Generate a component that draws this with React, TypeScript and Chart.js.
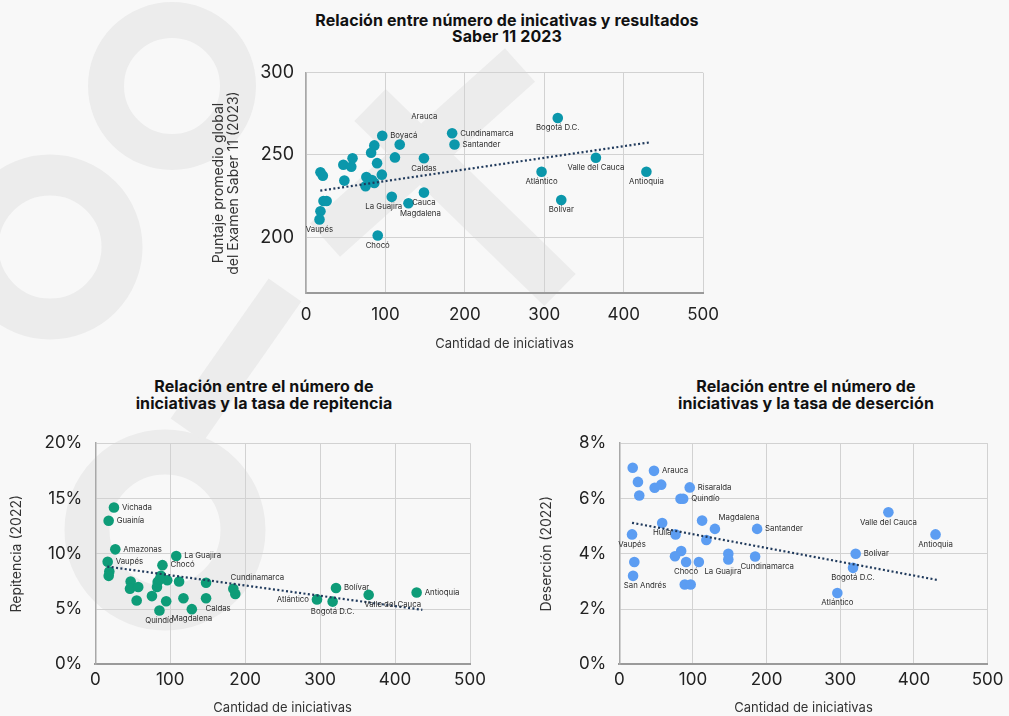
import React, { useEffect, useRef } from "react";
import { Chart, registerables } from "chart.js";

Chart.register(...registerables);

const FONT = "Inter, 'Noto Sans', sans-serif";

// ---------- Chart 1: Saber 11 ----------
const saberIniciativas = [317, 184, 187, 96, 118, 86, 82, 112, 58.6, 47, 57, 89.5, 148.5, 18.2, 21.2, 48.3, 76, 95.5, 83, 86, 75, 108, 129, 148.5, 22, 26, 18.2, 17, 90.3, 296.6, 365, 321.4, 428.6];
const saberPuntaje = [272.5, 263.2, 256.4, 261.7, 256.3, 255.8, 251.3, 248.5, 248, 244, 242.8, 245, 248, 239.4, 237.4, 234.4, 236.6, 238, 234.7, 233, 231, 224.5, 220.6, 227.1, 222, 222, 215.7, 210.7, 201, 239.8, 248.3, 222.6, 239.8];
const saberEtiquetas = ["Bogotá D.C.", "Cundinamarca", "Santander", "Boyacá", "", "", "", "", "", "", "", "", "Caldas", "", "", "", "", "", "", "", "", "La Guajira", "Magdalena", "Cauca", "", "", "", "Vaupés", "Chocó", "Atlántico", "Valle del Cauca", "Bolívar", "Antioquia"];
const saberUbicacion = ["b", "r", "r", "r", "", "", "", "", "", "", "", "", "b", "", "", "", "", "", "", "", "", "bl", "br", "b", "", "", "", "b", "b", "b", "b", "b", "b"];
const saberTendX = [18, 432];
const saberTendY = [228.3, 257.6];
const saberNotas = ["Arauca"];
const saberNotasX = [149];
const saberNotasY = [273.6];
const saberTicksY = [200, 250, 300];

// ---------- Chart 2: Repitencia ----------
const repIniciativas = [24.9, 17.8, 26.7, 16.5, 18.7, 17.9, 47.2, 46.3, 57.3, 55.2, 75.6, 85.6, 82.3, 83.2, 87.6, 89.6, 96, 94.6, 108, 111.8, 117.6, 128.8, 147.8, 147.8, 184.2, 186.8, 295.8, 316.7, 321.2, 364.8, 428.8, 86];
const repTasa = [14.19, 12.98, 10.4, 9.28, 8.4, 8.0, 7.49, 6.84, 6.99, 5.77, 6.17, 4.87, 7.0, 7.45, 8.0, 8.97, 7.6, 5.7, 9.8, 7.49, 5.97, 4.99, 7.37, 5.97, 6.84, 6.37, 5.87, 5.67, 6.9, 6.28, 6.49, 7.7];
const repEtiquetas = ["Vichada", "Guainía", "Amazonas", "Vaupés", "", "", "", "", "", "", "", "Quindío", "", "", "", "Chocó", "", "", "La Guajira", "", "", "Magdalena", "", "Caldas", "Cundinamarca", "", "Atlántico", "Bogotá D.C.", "Bolívar", "Valle del Cauca", "Antioquia", ""];
const repUbicacion = ["r", "r", "r", "r", "", "", "", "", "", "", "", "b", "", "", "", "r", "", "", "r", "", "", "b", "", "br", "aR", "", "l", "b", "r", "bR", "r", ""];
const repTendX = [16, 436.4];
const repTendY = [8.84, 4.93];
const repTicksY = [0, 5, 10, 15, 20];

// ---------- Chart 3: Deserción ----------
const desIniciativas = [18.2, 47.1, 25.3, 27.1, 48, 56.9, 95.6, 83.1, 86.7, 58.2, 17.3, 76.4, 112.4, 129.8, 118.2, 187.1, 84, 75.6, 90.7, 20.4, 108, 148, 148, 184.4, 18.7, 88.9, 96.9, 365.3, 429.3, 320.9, 317.3, 296];
const desTasa = [7.11, 7.0, 6.6, 6.11, 6.39, 6.5, 6.4, 5.99, 5.99, 5.11, 4.7, 4.7, 5.2, 4.9, 4.5, 4.9, 4.1, 3.91, 3.7, 3.7, 3.7, 4.0, 3.79, 3.9, 3.2, 2.89, 2.89, 5.5, 4.7, 4.0, 3.49, 2.58];
const desEtiquetas = ["", "Arauca", "", "", "", "", "Risaralda", "", "Quindío", "Huila", "Vaupés", "", "", "Magdalena", "", "Santander", "", "", "Chocó", "", "La Guajira", "", "", "Cundinamarca", "San Andrés", "", "", "Valle del Cauca", "Antioquia", "Bolívar", "Bogotá D.C.", "Atlántico"];
const desUbicacion = ["", "r", "", "", "", "", "r", "", "r", "b", "b", "", "", "aR", "", "r", "", "", "b", "", "bR", "", "", "br", "br", "", "", "b", "b", "r", "b", "b"];
const desTendX = [17.3, 434.2];
const desTendY = [5.12, 3.04];
const desTicksY = [0, 2, 4, 6, 8];

const xTicks = [0, 100, 200, 300, 400, 500];

const PLACES: Record<string, [number, number, CanvasTextAlign]> = {
  r: [8, 0, "left"],
  l: [-8, 0, "right"],
  b: [0, 10, "center"],
  br: [12, 10, "center"],
  bR: [24, 10, "center"],
  bl: [-8, 10, "center"],
  aR: [24, -11, "center"],
};

const pointLabelsPlugin = {
  id: "pointLabels",
  afterDatasetsDraw(chart: any, _args: any, opts: any) {
    const ctx = chart.ctx;
    const meta = chart.getDatasetMeta(0);
    ctx.save();
    ctx.font = `7.8px ${FONT}`;
    ctx.fillStyle = "#2c2c2c";
    ctx.textBaseline = "middle";
    meta.data.forEach((el: any, i: number) => {
      const t = opts.labels[i];
      if (!t) return;
      const p = PLACES[opts.places[i]] || PLACES.r;
      ctx.textAlign = p[2];
      ctx.fillText(t, el.x + p[0], el.y + p[1]);
    });
    const notes = opts.notes || [];
    notes.forEach((t: string, i: number) => {
      ctx.textAlign = "center";
      ctx.fillText(t, chart.scales.x.getPixelForValue(opts.notesX[i]), chart.scales.y.getPixelForValue(opts.notesY[i]));
    });
    ctx.restore();
  },
};

type PanelProps = {
  left: number;
  top: number;
  width: number;
  height: number;
  xs: number[];
  ys: number[];
  labels: string[];
  places: string[];
  trendX: number[];
  trendY: number[];
  notes?: string[];
  notesX?: number[];
  notesY?: number[];
  color: string;
  yMin: number;
  yMax: number;
  yTicks: number[];
  ySuffix: string;
  yTitle: string | string[];
  yTitlePad: number;
  yTitleLH: number;
  yWidth: number;
  yTickSize: number;
  yTickPad: number;
  xHeight: number;
  xTickPad: number;
  pad: { left: number; top: number; right: number; bottom: number };
};

function Panel(props: PanelProps) {
  const ref = useRef<HTMLCanvasElement | null>(null);
  useEffect(() => {
    if (!ref.current) return;
    const p = props;
    const chart = new Chart(ref.current, {
      type: "scatter",
      data: {
        datasets: [
          {
            type: "scatter",
            data: p.xs.map((x, i) => ({ x, y: p.ys[i] })),
            backgroundColor: p.color,
            borderWidth: 0,
            pointRadius: 5.3,
            pointHoverRadius: 5.3,
            order: 1,
          } as any,
          {
            type: "line",
            data: p.trendX.map((x, i) => ({ x, y: p.trendY[i] })),
            borderColor: "#203a5c",
            borderWidth: 2.2,
            borderDash: [2, 2.4],
            pointRadius: 0,
            fill: false,
            order: 0,
          } as any,
        ],
      },
      options: {
        responsive: false,
        animation: false,
        devicePixelRatio: 1,
        layout: { padding: p.pad },
        events: [],
        plugins: {
          legend: { display: false },
          tooltip: { enabled: false },
          title: { display: false },
          pointLabels: {
            labels: p.labels,
            places: p.places,
            notes: p.notes || [],
            notesX: p.notesX || [],
            notesY: p.notesY || [],
          },
        } as any,
        scales: {
          x: {
            type: "linear",
            min: 0,
            max: 500,
            afterBuildTicks: (s: any) => {
              s.ticks = xTicks.map((v) => ({ value: v }));
            },
            afterFit: (s: any) => {
              s.height = p.xHeight;
            },
            ticks: {
              font: { family: FONT, size: 17 },
              color: "#222",
              padding: p.xTickPad,
              maxRotation: 0,
              autoSkip: false,
            },
            grid: { color: "#d2d2d2", lineWidth: 1, drawTicks: false },
            border: { color: "#9a9a9a", width: 2 },
            title: {
              display: true,
              text: "Cantidad de iniciativas",
              font: { family: FONT, size: 13 },
              color: "#333",
              padding: 0,
            },
          },
          y: {
            type: "linear",
            min: p.yMin,
            max: p.yMax,
            afterBuildTicks: (s: any) => {
              s.ticks = p.yTicks.map((v) => ({ value: v }));
            },
            afterFit: (s: any) => {
              s.width = p.yWidth;
            },
            ticks: {
              font: { family: FONT, size: p.yTickSize },
              color: "#222",
              padding: p.yTickPad,
              callback: (v: any) => `${v}${p.ySuffix}`,
            },
            grid: { color: "#d2d2d2", lineWidth: 1, drawTicks: false },
            border: { color: "#a8a8a8", width: 1.5 },
            title: {
              display: true,
              text: p.yTitle,
              font: { family: FONT, size: 14, lineHeight: p.yTitleLH },
              color: "#333",
              padding: { top: p.yTitlePad, bottom: 0 },
            },
          },
        },
      },
      plugins: [pointLabelsPlugin],
    } as any);
    return () => chart.destroy();
  }, []);
  return (
    <canvas
      ref={ref}
      width={props.width}
      height={props.height}
      style={{ position: "absolute", left: props.left, top: props.top, width: props.width, height: props.height }}
    />
  );
}

const titleStyle: React.CSSProperties = {
  position: "absolute",
  fontFamily: FONT,
  fontWeight: 700,
  fontSize: 16,
  letterSpacing: "0.1px",
  lineHeight: "16.7px",
  color: "#111",
  textAlign: "center",
  whiteSpace: "nowrap",
};

function Watermark() {
  const c = "#ececec";
  return (
    <svg width={1009} height={716} style={{ position: "absolute", left: 0, top: 0 }}>
      <circle cx={172} cy={86} r={66} fill="none" stroke={c} strokeWidth={36} />
      <circle cx={50} cy={247} r={72} fill="none" stroke={c} strokeWidth={41} />
      <circle cx={165} cy={530} r={78} fill="none" stroke={c} strokeWidth={45} />
      <line x1={325} y1={240} x2={520} y2={65} stroke={c} strokeWidth={45} />
      <line x1={370} y1={105} x2={560} y2={290} stroke={c} strokeWidth={45} />
      <line x1={187} y1={430} x2={285} y2={290} stroke={c} strokeWidth={40} />
    </svg>
  );
}

export default function App() {
  return (
    <div
      style={{
        position: "absolute",
        left: 0,
        top: 0,
        width: 1009,
        height: 716,
        background: "#f8f8f8",
        overflow: "hidden",
      }}
    >
      <Watermark />
      <div style={{ ...titleStyle, left: 207, width: 600, top: 11.6 }}>
        Relación entre número de inicativas y resultados
        <br />
        Saber 11 2023
      </div>
      <div style={{ ...titleStyle, left: 64, width: 400, top: 378.3 }}>
        Relación entre el número de
        <br />
        iniciativas y la tasa de repitencia
      </div>
      <div style={{ ...titleStyle, left: 606, width: 400, top: 378.3 }}>
        Relación entre el número de
        <br />
        iniciativas y la tasa de deserción
      </div>
      <Panel
        left={190}
        top={50}
        width={540}
        height={310}
        xs={saberIniciativas}
        ys={saberPuntaje}
        labels={saberEtiquetas}
        places={saberUbicacion}
        trendX={saberTendX}
        trendY={saberTendY}
        notes={saberNotas}
        notesX={saberNotasX}
        notesY={saberNotasY}
        color="#0b97ab"
        yMin={165.8}
        yMax={300}
        yTicks={saberTicksY}
        ySuffix=""
        yTitle={["Puntaje promedio global", "del Examen Saber 11 (2023)"]}
        yTitlePad={21.6}
        yTitleLH={1.05}
        yWidth={116}
        yTickSize={18}
        yTickPad={12}
        xHeight={58.5}
        xTickPad={11}
        pad={{ left: 0, top: 17.3, right: 20, bottom: 8.2 }}
      />
      <Panel
        left={0}
        top={420}
        width={500}
        height={296}
        xs={repIniciativas}
        ys={repTasa}
        labels={repEtiquetas}
        places={repUbicacion}
        trendX={repTendX}
        trendY={repTendY}
        color="#0e9c78"
        yMin={0}
        yMax={20}
        yTicks={repTicksY}
        ySuffix="%"
        yTitle="Repitencia (2022)"
        yTitlePad={8.3}
        yTitleLH={1.2}
        yWidth={95.3}
        yTickSize={17}
        yTickPad={13}
        xHeight={51.7}
        xTickPad={5.5}
        pad={{ left: 0, top: 17.3, right: 30, bottom: 0 }}
      />
      <Panel
        left={520}
        top={420}
        width={489}
        height={296}
        xs={desIniciativas}
        ys={desTasa}
        labels={desEtiquetas}
        places={desUbicacion}
        trendX={desTendX}
        trendY={desTendY}
        color="#5c9df2"
        yMin={0}
        yMax={8}
        yTicks={desTicksY}
        ySuffix="%"
        yTitle="Deserción (2022)"
        yTitlePad={18.3}
        yTitleLH={1.2}
        yWidth={99.3}
        yTickSize={17}
        yTickPad={13}
        xHeight={51.7}
        xTickPad={5.5}
        pad={{ left: 0, top: 17.3, right: 14.7, bottom: 0 }}
      />
    </div>
  );
}
